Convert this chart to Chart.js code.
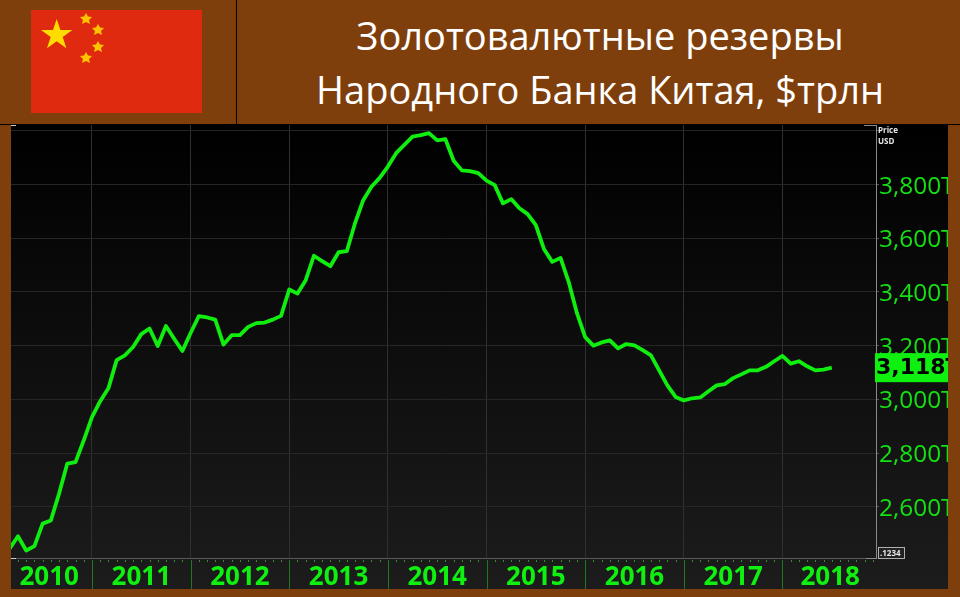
<!DOCTYPE html>
<html lang="ru">
<head>
<meta charset="utf-8">
<title>Золотовалютные резервы</title>
<script src="https://cdn.jsdelivr.net/npm/chart.js@4"></script>
<style>
html, body { margin: 0; padding: 0; }
body { width: 960px; height: 597px; background: #7f3f0d; position: relative; overflow: hidden; }
#flag { position: absolute; left: 31px; top: 10px; width: 171px; height: 103px; }
#divider { position: absolute; left: 236px; top: 0; width: 1px; height: 124px; background: #000; }
#rule { position: absolute; left: 0; top: 124px; width: 960px; height: 1px; background: #000; }
#title { position: absolute; left: 237px; top: 8px; width: 726px; text-align: center; color: #fff;
    font-family: "Open Sans", sans-serif; font-size: 38px; line-height: 54px; white-space: nowrap; }
#panel { position: absolute; left: 11px; top: 125px; width: 937px; height: 464px;
    background: linear-gradient(#000 0%, #1c1c1c 100%); }
canvas { display: block; }
</style>
</head>
<body>
<svg id="flag" viewBox="0 0 171 103">
    <defs><filter id="soft"><feGaussianBlur stdDeviation="0.6"></feGaussianBlur></filter></defs>
    <rect width="171" height="103" fill="#e02a10"></rect>
    <g filter="url(#soft)">
        <polygon fill="#ffdc00" points="25.7,9 29.4,19.9 41.4,19.9 31.7,27 35.4,38.3 25.7,31.3 16,38.3 19.7,27 10,19.9 22,19.9"></polygon>
        <polygon fill="#ffc400" points="55,3 57,6.5 61,7 58,10 59,14 55,12 51,14 52,10 49,7 53,6.5"></polygon>
        <polygon fill="#ffc400" points="67,14 69,17.5 73,18 70,21 71,25 67,23 63,25 64,21 61,18 65,17.5"></polygon>
        <polygon fill="#ffc400" points="67,31 69,34.5 73,35 70,38 71,42 67,40 63,42 64,38 61,35 65,34.5"></polygon>
        <polygon fill="#ffc400" points="55,42 57,45.5 61,46 58,49 59,53 55,51 51,53 52,49 49,46 53,45.5"></polygon>
    </g>
</svg>
<div id="divider"></div>
<div id="rule"></div>
<div id="title">Золотовалютные резервы<br>Народного Банка Китая, $трлн</div>
<div id="panel"><canvas id="chart" width="937" height="464"></canvas></div>

<script>
var reserves = [
    2445, 2490, 2437, 2453, 2537, 2549, 2649, 2761, 2766, 2847,
    2934, 2993, 3041, 3146, 3164, 3195, 3243, 3264, 3199, 3273, 3226, 3180,
    3247, 3310, 3305, 3297, 3204, 3239, 3239, 3270, 3284, 3286, 3297, 3311,
    3409, 3394, 3444, 3535, 3515, 3496, 3548, 3552, 3656, 3742, 3792, 3825,
    3867, 3917, 3948, 3979, 3984, 3992, 3965, 3969, 3889, 3853, 3850, 3843,
    3815, 3798, 3730, 3746, 3712, 3690, 3649, 3559, 3512, 3527, 3437, 3321,
    3232, 3200, 3212, 3220, 3190, 3206, 3201, 3183, 3164, 3108, 3052, 3009,
    2996, 3004, 3007, 3030, 3052, 3057, 3079, 3093, 3108, 3108, 3121, 3142,
    3162, 3133, 3142, 3123, 3108, 3111, 3118
];
var priceTicks = [2600, 2800, 3000, 3200, 3400, 3600, 3800, 4000];
var yearNames = ['2010', '2011', '2012', '2013', '2014', '2015', '2016', '2017', '2018'];
var yearStarts = [10, 22, 34, 46, 58, 70, 82, 94];
var yearCentres = [4.8, 16, 28, 40, 52, 64, 76, 88, 99.8];
var lastLabel = '3,118T';

var points = reserves.map(function (v, i) {
    return { x: i, y: v };
});

function priceLabel(v) {
    if (v >= 4000) return '';
    return String(v).charAt(0) + ',' + String(v).substring(1) + 'T';
}

// everything around the plot the axes cannot draw themselves
var terminalFrame = {
    id: 'terminalFrame',
    afterDraw: function (chart) {
        var ctx = chart.ctx;
        var area = chart.chartArea;
        var xs = chart.scales.x;
        var ys = chart.scales.y;
        var i;

        ctx.save();
        ctx.fillStyle = '#2f8f2f';
        for (i = 0; i <= 105; i++) {
            ctx.fillRect(Math.round(xs.getPixelForValue(i)), area.bottom + 2, 1, 2);
        }
        ctx.fillStyle = '#1f7a1f';
        yearStarts.forEach(function (k) {
            ctx.fillRect(Math.round(xs.getPixelForValue(k)), area.bottom + 2, 1, 29);
        });

        ctx.fillStyle = '#5a5a5a';
        ctx.fillRect(area.left, area.bottom, area.width, 1);
        ctx.fillStyle = '#8a8a8a';
        ctx.fillRect(area.right, area.top, 1, area.height + 1);
        ctx.fillRect(area.right - 12, area.top, 12, 1);
        ctx.fillRect(area.right - 10, area.bottom, 10, 1);
        ctx.fillStyle = '#cccccc';
        ctx.fillRect(area.left, area.bottom, 5, 1);
        ctx.fillRect(area.left, area.top, 5, 1);

        ctx.fillStyle = '#e6e6e6';
        ctx.font = 'bold 8px "Open Sans"';
        ctx.textAlign = 'left';
        ctx.textBaseline = 'middle';
        ctx.fillText('Price', area.right + 2, 6);
        ctx.fillText('USD', area.right + 2, 17);

        // last value tag
        var lastY = ys.getPixelForValue(reserves[reserves.length - 1]);
        ctx.fillStyle = '#10f010';
        ctx.fillRect(area.right - 1, lastY - 14.5, 73, 29);
        ctx.fillStyle = '#000';
        ctx.font = 'bold 22px "DejaVu Sans"';
        ctx.fillText(lastLabel, area.right, lastY + 1);

        // decimals box
        ctx.fillStyle = '#222';
        ctx.fillRect(area.right + 3, area.bottom - 10, 25, 10);
        ctx.strokeStyle = '#b0b0b0';
        ctx.strokeRect(area.right + 2.5, area.bottom - 10.5, 26, 11);
        ctx.fillStyle = '#e6e6e6';
        ctx.font = 'bold 8px "Open Sans"';
        ctx.fillText('.1234', area.right + 4, area.bottom - 4.5);
        ctx.restore();
    }
};

new Chart(document.getElementById('chart').getContext('2d'), {
    type: 'line',
    data: {
        datasets: [{
            data: points,
            borderColor: '#10ee10',
            borderWidth: 3.8,
            pointRadius: 0,
            tension: 0,
            borderJoinStyle: 'round'
        }]
    },
    plugins: [terminalFrame],
    options: {
        responsive: false,
        animation: false,
        layout: { padding: 0 },
        plugins: { legend: { display: false }, tooltip: { enabled: false } },
        scales: {
            x: {
                type: 'linear',
                min: 0.15,
                max: 105.38,
                afterBuildTicks: function (scale) {
                    scale.ticks = yearStarts.concat(yearCentres).sort(function (a, b) {
                        return a - b;
                    }).map(function (v) {
                        return { value: v };
                    });
                },
                afterFit: function (scale) {
                    scale.height = 31;
                    scale.paddingLeft = 0;
                    scale.paddingRight = 0;
                },
                border: { display: false },
                grid: {
                    drawTicks: false,
                    lineWidth: 1,
                    color: function (c) {
                        return yearStarts.indexOf(c.tick.value) >= 0 ? '#303030' : 'transparent';
                    }
                },
                ticks: {
                    autoSkip: false,
                    maxRotation: 0,
                    padding: 4,
                    color: '#10f010',
                    font: { family: '"Open Sans"', size: 26, weight: 'bold' },
                    callback: function (v) {
                        var i = yearCentres.indexOf(v);
                        return i >= 0 ? yearNames[i] : '';
                    }
                }
            },
            y: {
                position: 'right',
                min: 2409,
                max: 4022,
                afterBuildTicks: function (scale) {
                    scale.ticks = priceTicks.map(function (v) {
                        return { value: v };
                    });
                },
                afterFit: function (scale) {
                    scale.width = 72;
                    scale.paddingTop = 0;
                    scale.paddingBottom = 0;
                },
                border: { display: false },
                grid: { color: '#262626', lineWidth: 1, tickColor: '#555', tickLength: 3 },
                ticks: {
                    padding: 0,
                    color: '#14e014',
                    font: { family: '"Open Sans"', size: 24.4 },
                    crossAlign: 'near',
                    labelOffset: 2,
                    callback: priceLabel
                }
            }
        }
    }
});
</script>
</body>
</html>
